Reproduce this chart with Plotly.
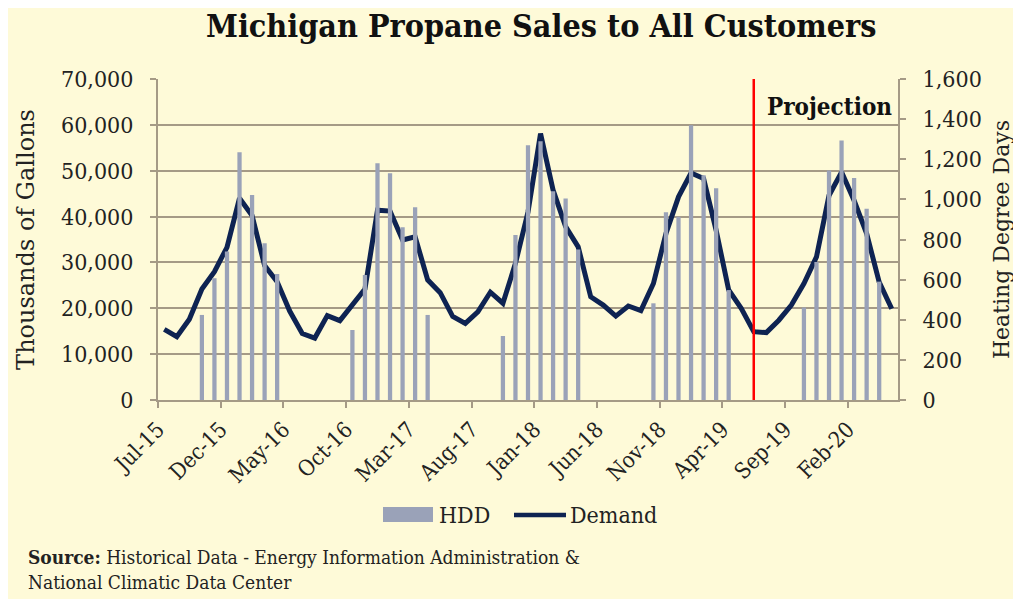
import plotly.graph_objects as go

months = ["Jul-15","Aug-15","Sep-15","Oct-15","Nov-15","Dec-15","Jan-16","Feb-16","Mar-16","Apr-16","May-16","Jun-16",
          "Jul-16","Aug-16","Sep-16","Oct-16","Nov-16","Dec-16","Jan-17","Feb-17","Mar-17","Apr-17","May-17","Jun-17",
          "Jul-17","Aug-17","Sep-17","Oct-17","Nov-17","Dec-17","Jan-18","Feb-18","Mar-18","Apr-18","May-18","Jun-18",
          "Jul-18","Aug-18","Sep-18","Oct-18","Nov-18","Dec-18","Jan-19","Feb-19","Mar-19","Apr-19","May-19","Jun-19",
          "Jul-19","Aug-19","Sep-19","Oct-19","Nov-19","Dec-19","Jan-20","Feb-20","Mar-20","Apr-20","May-20"]

demand = [15400, 13800, 17600, 24200, 28000, 33300, 44000, 40200, 29300, 25800, 19400, 14500,
          13500, 18400, 17300, 20900, 24200, 41400, 41200, 34900, 35600, 26200, 23400, 18200,
          16700, 19200, 23500, 21100, 29800, 41000, 58100, 45800, 37800, 33400, 22500, 20700,
          18300, 20500, 19500, 25400, 36300, 44300, 49500, 48300, 37000, 24000, 20000, 14900,
          14700, 17400, 20700, 25400, 31200, 44600, 49700, 43500, 36300, 25700, 19900]

N = None
hdd = [N, N, N, 424, 607, 740, 1235, 1022, 781, 628, N, N,
       N, N, N, 349, 623, 1180, 1130, 861, 961, 424, N, N,
       N, N, N, 319, 822, 1270, 1290, 1040, 1004, 750, N, N,
       N, N, N, 482, 936, 914, 1370, 1120, 1055, 548, N, N,
       N, N, N, 461, 688, 1144, 1293, 1106, 953, 590, N]

tick_labels = ["Jul-15","Dec-15","May-16","Oct-16","Mar-17","Aug-17","Jan-18","Jun-18","Nov-18","Apr-19","Sep-19","Feb-20"]
projection_start = "Jun-19"

left_ticks = [0, 10000, 20000, 30000, 40000, 50000, 60000, 70000]
right_ticks = [0, 200, 400, 600, 800, 1000, 1200, 1400, 1600]

BG = "#FEFAD8"
GRID = "#A59A86"
BAR = "#9AA2B8"
LINE = "#0E2352"
TXT = "#222222"
SERIF = "DejaVu Serif Condensed, DejaVu Serif, serif"
SERIF_WIDE = "DejaVu Serif, serif"

x = list(range(len(months)))
tickvals = [months.index(m) - 0.5 for m in tick_labels]

# page body adds an 8px offset; positions below are in screen pixels
OFF = 8
PL, PR, PT, PB = 158, 898, 79, 400          # plot area on screen
L, T = PL - OFF, PT - OFF
R = 1021 - (PR - OFF)
B = 599 - (PB - OFF)

def px_x(p):
    return (p - PL) / (PR - PL)

def px_y(p):
    return (PB - p) / (PB - PT)

fig = go.Figure()
fig.add_trace(go.Bar(x=x, y=hdd, name="HDD", marker=dict(color=BAR, line=dict(width=0)),
                     width=0.34, yaxis="y2", showlegend=False))
fig.add_trace(go.Scatter(x=x, y=demand, name="Demand", mode="lines",
                         line=dict(color=LINE, width=5), yaxis="y", showlegend=False))

shapes = [
    dict(type="line", xref="x", yref="paper", x0=months.index(projection_start), x1=months.index(projection_start),
         y0=0, y1=1, line=dict(color="#FF0000", width=2.5)),
    # legend swatches
    dict(type="rect", xref="paper", yref="paper", x0=px_x(383), x1=px_x(433), y0=px_y(522), y1=px_y(507),
         fillcolor=BAR, line=dict(width=0)),
    dict(type="line", xref="paper", yref="paper", x0=px_x(514), x1=px_x(566), y0=px_y(515), y1=px_y(515),
         line=dict(color=LINE, width=4.5)),
]

fig.update_layout(
    width=1021, height=599,
    margin=dict(l=L, r=R, t=T, b=B),
    paper_bgcolor=BG, plot_bgcolor=BG,
    font=dict(family=SERIF, color=TXT, size=20),
    xaxis=dict(range=[-0.5, len(months) - 0.5], tickmode="array", tickvals=tickvals, ticktext=tick_labels,
               tickangle=-45, ticks="outside", ticklen=6, tickcolor=GRID, tickwidth=2,
               showline=True, linecolor=GRID, linewidth=2, showgrid=False, zeroline=False,
               tickfont=dict(size=22, family=SERIF, color=TXT)),
    yaxis=dict(range=[0, 70000], tickvals=left_ticks, tickformat=",", ticks="outside", ticklen=6,
               tickcolor=GRID, tickwidth=2, showline=True, linecolor=GRID, linewidth=2,
               showgrid=True, gridcolor=GRID, gridwidth=2, zeroline=False, ticklabelstandoff=12,
               title=dict(text="Thousands of Gallons", font=dict(size=24, family=SERIF_WIDE, color=TXT), standoff=20),
               tickfont=dict(size=23, family=SERIF, color=TXT)),
    yaxis2=dict(range=[0, 1600], tickvals=right_ticks, tickformat=",", overlaying="y", side="right",
                ticks="outside", ticklen=6, tickcolor=GRID, tickwidth=2, showline=True, linecolor=GRID,
                linewidth=2, showgrid=False, zeroline=False, ticklabelstandoff=12,
                title=dict(text="Heating Degree Days", font=dict(size=22, family=SERIF_WIDE, color=TXT), standoff=13),
                tickfont=dict(size=23, family=SERIF, color=TXT)),
    bargap=0.6,
    shapes=shapes,
    annotations=[
        dict(text="<b>Michigan Propane Sales to All Customers</b>", xref="paper", yref="paper",
             x=px_x(541), y=px_y(26), xanchor="center", yanchor="middle", showarrow=False,
             font=dict(size=32, family=SERIF, color="#111111")),
        dict(text="<b>Projection</b>", xref="paper", yref="paper", x=px_x(894), y=px_y(106),
             xanchor="right", yanchor="middle", showarrow=False,
             font=dict(size=24, family=SERIF, color="#111111"), bgcolor=BG),
        dict(text="HDD", xref="paper", yref="paper", x=px_x(437), y=px_y(515), xanchor="left", yanchor="middle",
             showarrow=False, font=dict(size=23, family=SERIF, color=TXT)),
        dict(text="Demand", xref="paper", yref="paper", x=px_x(568), y=px_y(515), xanchor="left", yanchor="middle",
             showarrow=False, font=dict(size=23, family=SERIF, color=TXT)),
        dict(text="<b>Source:</b> Historical Data - Energy Information Administration &amp;<br>National Climatic Data Center",
             xref="paper", yref="paper", x=px_x(26), y=px_y(569), xanchor="left", yanchor="middle",
             align="left", showarrow=False, font=dict(size=19, family=SERIF, color=TXT)),
    ],
)

fig.write_html("out.html")
